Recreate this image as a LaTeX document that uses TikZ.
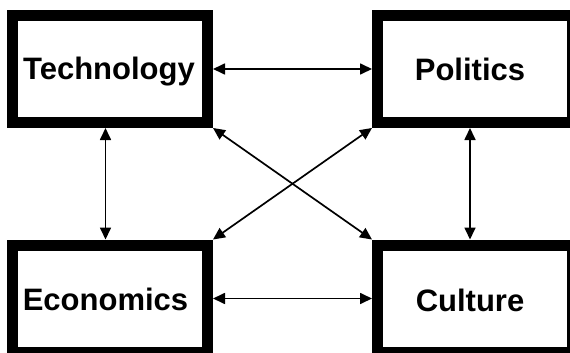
\documentclass[tikz,border=0pt]{standalone}
\usepackage{fontspec}
\setmainfont{Liberation Sans}
\usetikzlibrary{arrows.meta}
\begin{document}
\begin{tikzpicture}[x=1pt,y=-1pt,
  box/.style={draw=black, line width=11pt, fill=white, rectangle,
    minimum width=195pt, minimum height=107pt, inner sep=0pt, outer sep=5.5pt},
  lbl/.style={font=\fontsize{31}{36}\selectfont\bfseries, inner sep=0pt, anchor=base},
  link/.style={line width=1.7pt,
    {Triangle[length=12pt,width=11pt]}-{Triangle[length=12pt,width=11pt]}}]
  \useasboundingbox (0,0) rectangle (570,353);
  \begin{scope}
    \clip (0,0) rectangle (570,353);
    % the four boxes
    \node[box] (tech) at (110,69) {};
    \node[box] (pol)  at (475,69) {};
    \node[box] (econ) at (110,298.5) {};
    \node[box] (cult) at (475,298.5) {};
  \end{scope}
  % their labels, placed on their baselines
  \node[lbl] (techtxt) at (109,80) {Technology};
  \node[lbl] (poltxt)  at (470,81) {Politics};
  \node[lbl] (econtxt) at (105.5,310) {Economics};
  \node[lbl] (culttxt) at (470,311) {Culture};
  % two-way links
  \draw[link] (tech.east) -- (pol.west);
  \draw[link] (econ.east) -- (cult.west);
  \draw[link] (tech.south -| econtxt) -- (econ.north -| econtxt);
  \draw[link] (pol.south -| poltxt) -- (cult.north -| culttxt);
  \draw[link] (tech.south east) -- (cult.north west);
  \draw[link] (econ.north east) -- (pol.south west);
\end{tikzpicture}
\end{document}
